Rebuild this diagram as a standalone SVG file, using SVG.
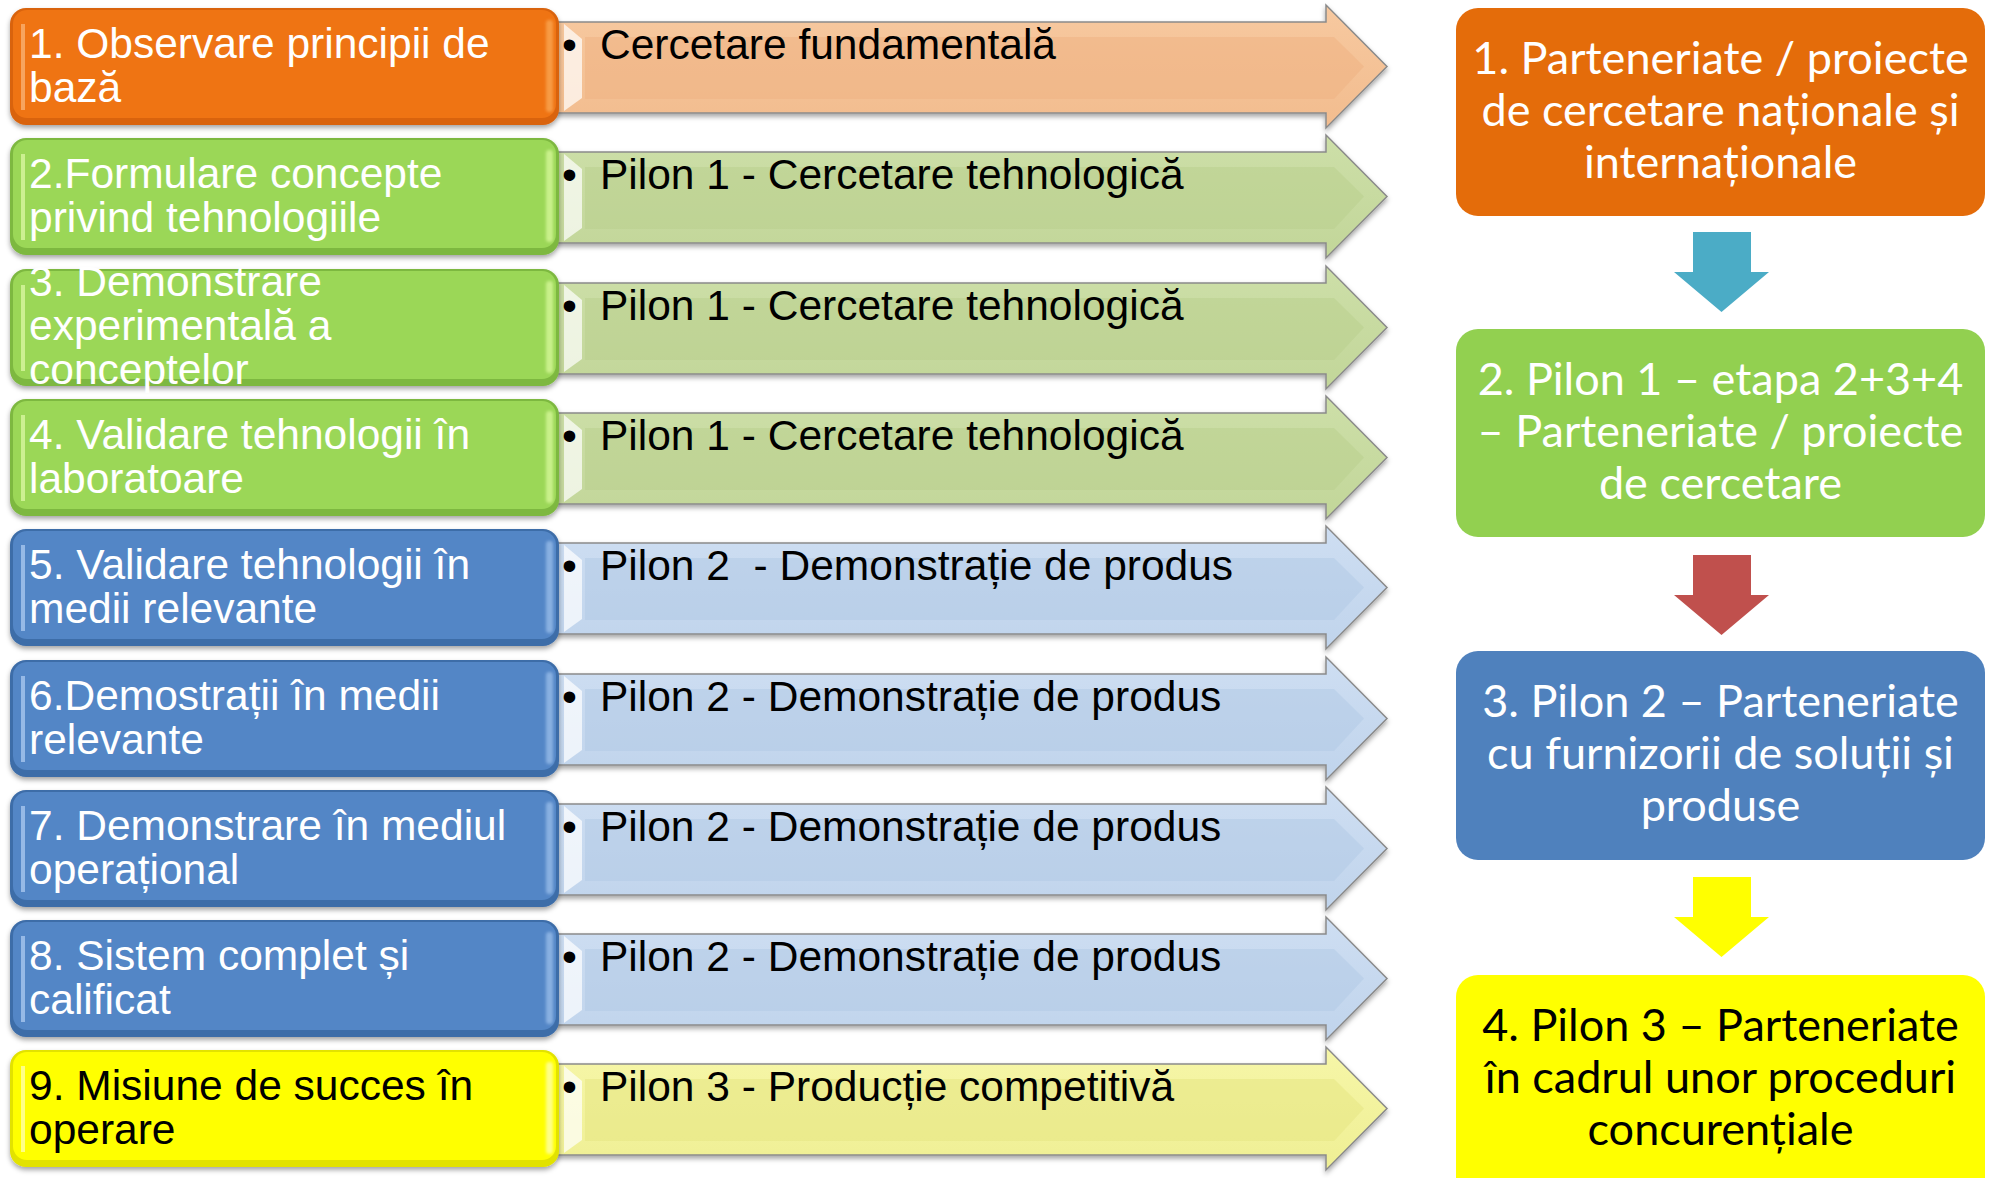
<svg xmlns="http://www.w3.org/2000/svg" xmlns:xlink="http://www.w3.org/1999/xlink" width="1991" height="1178" viewBox="0 0 1991 1178">
<style>
.lt{font-family:"Liberation Sans",Arial,sans-serif;font-size:42.5px;fill:#fff}
.lt.dk{fill:#000}
.at{font-family:"Liberation Sans",Arial,sans-serif;font-size:42.5px;fill:#000}
.rt{font-family:Lato,"Open Sans",sans-serif;font-size:45px;text-anchor:middle;fill:#fff}
.rt.dk{fill:#000}
.chev{stroke:#8a8a8a;stroke-width:1.5;filter:url(#sh)}
.peach{fill:url(#gPeach)}
.lgreen{fill:url(#gLGreen)}
.lblue{fill:url(#gLBlue)}
.lyellow{fill:url(#gLYellow)}
.inner{opacity:.55}
.bev{fill:#fff;opacity:.7}
.boxo{filter:url(#sh)}
</style>
<defs>
<filter id="sh" x="-5%" y="-10%" width="110%" height="130%">
<feDropShadow dx="0" dy="3" stdDeviation="2.5" flood-color="#000" flood-opacity="0.35"/>
</filter>
<filter id="blur" x="-50%" y="-10%" width="200%" height="120%"><feGaussianBlur stdDeviation="1.5"/></filter>
<linearGradient id="gPeach" x1="0" y1="0" x2="0" y2="1"><stop offset="0" stop-color="#F7C9A0"/><stop offset="1" stop-color="#F2BC8E"/></linearGradient>
<linearGradient id="gLGreen" x1="0" y1="0" x2="0" y2="1"><stop offset="0" stop-color="#CDDFA8"/><stop offset="1" stop-color="#C2D699"/></linearGradient>
<linearGradient id="gLBlue" x1="0" y1="0" x2="0" y2="1"><stop offset="0" stop-color="#CEDEF2"/><stop offset="1" stop-color="#C0D4EC"/></linearGradient>
<linearGradient id="gLYellow" x1="0" y1="0" x2="0" y2="1"><stop offset="0" stop-color="#F6F6A8"/><stop offset="1" stop-color="#EFEF94"/></linearGradient>
<path id="chev" d="M540 14 H1326 V-3 L1387 58.5 L1326 120 V105 H540 Z"/>
<path id="chevIn" d="M585 29 H1334 L1364 58.5 L1334 91 H585 Z"/>
<polygon id="bevL" points="564,16 582,31 582,90 564,103"/>
<rect id="box" x="10" y="0" width="549" height="117" rx="16"/>
<rect id="boxIn" x="13" y="2" width="543" height="108" rx="14"/>
<rect id="hlR" x="546" y="12" width="7" height="92" rx="3"/>
<rect id="hlL" x="21" y="16" width="4" height="86"/>
<polygon id="down" points="1693,0 1751,0 1751,40 1769,40 1721.5,80 1674,40 1693,40"/>
</defs>

<!-- Left column: TRL stages -->
<g id="stage-1" transform="translate(0,8)">
<use href="#chev" class="chev peach"/><use href="#chevIn" class="inner" fill="#EFB284"/><use href="#bevL" class="bev"/>
<use href="#box" class="boxo" fill="#D9640C"/><use href="#boxIn" fill="#EF7413"/><use href="#hlR" fill="#F9A24E" opacity=".85" filter="url(#blur)"/><use href="#hlL" fill="#F9B070" opacity=".8"/>
<text class="lt" x="29" y="50">1. Observare principii de</text>
<text class="lt" x="29" y="94">bază</text>
<text class="at" x="562" y="51">•</text><text class="at" x="600" y="51">Cercetare fundamentală</text>
</g>

<g id="stage-2" transform="translate(0,138)">
<use href="#chev" class="chev lgreen"/><use href="#chevIn" class="inner" fill="#B9CF8E"/><use href="#bevL" class="bev"/>
<use href="#box" class="boxo" fill="#7DB841"/><use href="#boxIn" fill="#9BD757"/><use href="#hlR" fill="#D2F594" opacity=".85" filter="url(#blur)"/><use href="#hlL" fill="#D8F6A0" opacity=".8"/>
<text class="lt" x="29" y="50">2.Formulare concepte</text>
<text class="lt" x="29" y="94">privind tehnologiile</text>
<text class="at" x="562" y="51">•</text><text class="at" x="600" y="51">Pilon 1 - Cercetare tehnologică</text>
</g>

<g id="stage-3" transform="translate(0,269)">
<use href="#chev" class="chev lgreen"/><use href="#chevIn" class="inner" fill="#B9CF8E"/><use href="#bevL" class="bev"/>
<use href="#box" class="boxo" fill="#7DB841"/><use href="#boxIn" fill="#9BD757"/><use href="#hlR" fill="#D2F594" opacity=".85" filter="url(#blur)"/><use href="#hlL" fill="#D8F6A0" opacity=".8"/>
<text class="lt" x="29" y="27">3. Demonstrare</text>
<text class="lt" x="29" y="71">experimentală a</text>
<text class="lt" x="29" y="115">conceptelor</text>
<text class="at" x="562" y="51">•</text><text class="at" x="600" y="51">Pilon 1 - Cercetare tehnologică</text>
</g>

<g id="stage-4" transform="translate(0,399)">
<use href="#chev" class="chev lgreen"/><use href="#chevIn" class="inner" fill="#B9CF8E"/><use href="#bevL" class="bev"/>
<use href="#box" class="boxo" fill="#7DB841"/><use href="#boxIn" fill="#9BD757"/><use href="#hlR" fill="#D2F594" opacity=".85" filter="url(#blur)"/><use href="#hlL" fill="#D8F6A0" opacity=".8"/>
<text class="lt" x="29" y="50">4. Validare tehnologii în</text>
<text class="lt" x="29" y="94">laboratoare</text>
<text class="at" x="562" y="51">•</text><text class="at" x="600" y="51">Pilon 1 - Cercetare tehnologică</text>
</g>

<g id="stage-5" transform="translate(0,529)">
<use href="#chev" class="chev lblue"/><use href="#chevIn" class="inner" fill="#B3CAE6"/><use href="#bevL" class="bev"/>
<use href="#box" class="boxo" fill="#3E6DA8"/><use href="#boxIn" fill="#5386C6"/><use href="#hlR" fill="#93B8E6" opacity=".85" filter="url(#blur)"/><use href="#hlL" fill="#A8C6EE" opacity=".8"/>
<text class="lt" x="29" y="50">5. Validare tehnologii în</text>
<text class="lt" x="29" y="94">medii relevante</text>
<text class="at" x="562" y="51">•</text><text class="at" x="600" y="51">Pilon 2&#160; - Demonstrație de produs</text>
</g>

<g id="stage-6" transform="translate(0,660)">
<use href="#chev" class="chev lblue"/><use href="#chevIn" class="inner" fill="#B3CAE6"/><use href="#bevL" class="bev"/>
<use href="#box" class="boxo" fill="#3E6DA8"/><use href="#boxIn" fill="#5386C6"/><use href="#hlR" fill="#93B8E6" opacity=".85" filter="url(#blur)"/><use href="#hlL" fill="#A8C6EE" opacity=".8"/>
<text class="lt" x="29" y="50">6.Demostrații în medii</text>
<text class="lt" x="29" y="94">relevante</text>
<text class="at" x="562" y="51">•</text><text class="at" x="600" y="51">Pilon 2 - Demonstrație de produs</text>
</g>

<g id="stage-7" transform="translate(0,790)">
<use href="#chev" class="chev lblue"/><use href="#chevIn" class="inner" fill="#B3CAE6"/><use href="#bevL" class="bev"/>
<use href="#box" class="boxo" fill="#3E6DA8"/><use href="#boxIn" fill="#5386C6"/><use href="#hlR" fill="#93B8E6" opacity=".85" filter="url(#blur)"/><use href="#hlL" fill="#A8C6EE" opacity=".8"/>
<text class="lt" x="29" y="50">7. Demonstrare în mediul</text>
<text class="lt" x="29" y="94">operațional</text>
<text class="at" x="562" y="51">•</text><text class="at" x="600" y="51">Pilon 2 - Demonstrație de produs</text>
</g>

<g id="stage-8" transform="translate(0,920)">
<use href="#chev" class="chev lblue"/><use href="#chevIn" class="inner" fill="#B3CAE6"/><use href="#bevL" class="bev"/>
<use href="#box" class="boxo" fill="#3E6DA8"/><use href="#boxIn" fill="#5386C6"/><use href="#hlR" fill="#93B8E6" opacity=".85" filter="url(#blur)"/><use href="#hlL" fill="#A8C6EE" opacity=".8"/>
<text class="lt" x="29" y="50">8. Sistem complet și</text>
<text class="lt" x="29" y="94">calificat</text>
<text class="at" x="562" y="51">•</text><text class="at" x="600" y="51">Pilon 2 - Demonstrație de produs</text>
</g>

<g id="stage-9" transform="translate(0,1050)">
<use href="#chev" class="chev lyellow"/><use href="#chevIn" class="inner" fill="#E6E684"/><use href="#bevL" class="bev"/>
<use href="#box" class="boxo" fill="#E2E200"/><use href="#boxIn" fill="#FFFF00"/><use href="#hlR" fill="#FFFFA0" opacity=".85" filter="url(#blur)"/><use href="#hlL" fill="#FFFFA8" opacity=".8"/>
<text class="lt dk" x="29" y="50">9. Misiune de succes în</text>
<text class="lt dk" x="29" y="94">operare</text>
<text class="at" x="562" y="51">•</text><text class="at" x="600" y="51">Pilon 3 - Producție competitivă</text>
</g>

<!-- Right column: partnership steps -->
<g id="step-1">
<rect x="1456" y="8" width="529" height="208" rx="22" fill="#E46C0A"/>
<text class="rt" x="1720.5" y="74">1. Parteneriate / proiecte</text>
<text class="rt" x="1720.5" y="126">de cercetare naționale și</text>
<text class="rt" x="1720.5" y="178">internaționale</text>
</g>
<g id="step-2">
<rect x="1456" y="329" width="529" height="208" rx="22" fill="#92D050"/>
<text class="rt" x="1720.5" y="395">2. Pilon 1 – etapa 2+3+4</text>
<text class="rt" x="1720.5" y="447">– Parteneriate / proiecte</text>
<text class="rt" x="1720.5" y="499">de cercetare</text>
</g>
<g id="step-3">
<rect x="1456" y="651" width="529" height="209" rx="22" fill="#4F81BD"/>
<text class="rt" x="1720.5" y="717">3. Pilon 2 – Parteneriate</text>
<text class="rt" x="1720.5" y="769">cu furnizorii de soluții și</text>
<text class="rt" x="1720.5" y="821">produse</text>
</g>
<g id="step-4">
<rect x="1456" y="975" width="529" height="240" rx="22" fill="#FFFF00"/>
<text class="rt dk" x="1720.5" y="1041">4. Pilon 3 – Parteneriate</text>
<text class="rt dk" x="1720.5" y="1093">în cadrul unor proceduri</text>
<text class="rt dk" x="1720.5" y="1145">concurențiale</text>
</g>

<g id="connectors">
<use href="#down" transform="translate(0,232)" fill="#4BACC6"/>
<use href="#down" transform="translate(0,555)" fill="#C0504D"/>
<use href="#down" transform="translate(0,877)" fill="#FFFF00"/>
</g>
</svg>
